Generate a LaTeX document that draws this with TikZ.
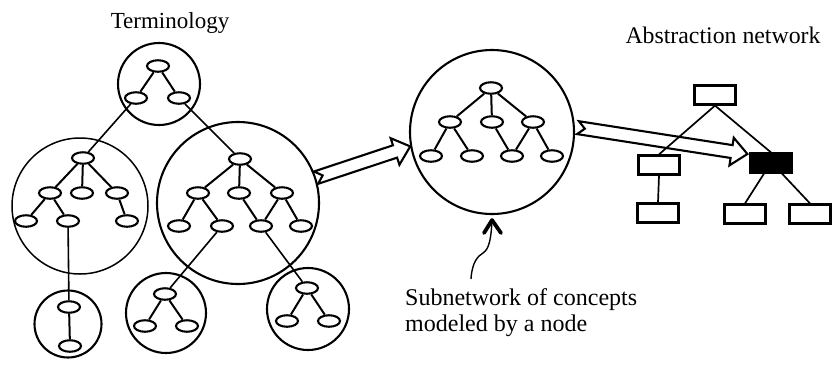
\documentclass[tikz,border=0pt]{standalone}
\usepackage{fontspec}
\setmainfont{Liberation Serif}
\usetikzlibrary{calc,shapes.geometric}

\tikzset{
  grp/.style={circle, draw, line width=2.1pt, inner sep=0pt},
  con/.style={ellipse, draw, line width=2.1pt, fill=white, minimum width=22pt,
              minimum height=11.5pt, inner sep=0pt},
  tedge/.style={line width=2pt},
  link/.style={line width=1.6pt},
  anode/.style={rectangle, draw, line width=2.2pt, minimum width=41pt,
                minimum height=19pt, inner sep=0pt},
  aedge/.style={line width=1.7pt},
  fatarr/.style={line width=2.1pt, line join=miter},
  lbl/.style={font=\fontsize{23}{26}\selectfont, inner sep=0pt},
}

% hollow block arrow with a swallow tail, from #1 (tail) to #2 (tip)
\newcommand\fatarrow[2]{%
  \coordinate (fa-c) at ($(#2)!16pt!(#1)$);
  \draw[fatarr]
    ($(#1)!6.5pt!90:(#2)$) -- ($(fa-c)!6.5pt!-90:(#1)$) -- ($(fa-c)!14pt!-90:(#1)$)
    -- (#2) -- ($(fa-c)!14pt!90:(#1)$) -- ($(fa-c)!6.5pt!90:(#1)$)
    -- ($(#1)!6.5pt!-90:(#2)$) -- ($(#1)!7pt!(#2)$) -- cycle;}

\begin{document}
\begin{tikzpicture}[x=1pt,y=-1pt]
\useasboundingbox (0,0) rectangle (832,365);

% ---------- terminology: groups of concepts ----------
\node[grp, minimum size=82pt] (tc) at (159,84) {};
\node[grp, minimum size=136pt, line width=1.5pt] (lc) at (80,206) {};
\node[grp, minimum size=162pt] (rc) at (238,203) {};
\node[grp, minimum size=67pt] (b1) at (68,324) {};
\node[grp, minimum size=80pt] (b2) at (166,313) {};
\node[grp, minimum size=82pt] (b3) at (308,309) {};

% top group
\node[con] (t0) at (158,66) {};
\node[con] (t1) at (136,98) {};
\node[con] (t2) at (179,98) {};
% left group
\node[con] (l0) at (83,158) {};
\node[con] (l1) at (50,193) {};
\node[con] (l2) at (82,193) {};
\node[con] (l3) at (117,193) {};
\node[con] (l4) at (26,221) {};
\node[con] (l5) at (68,221) {};
\node[con] (l6) at (127,221) {};
% right group
\node[con] (r0) at (240,159) {};
\node[con] (r1) at (198,193) {};
\node[con] (r2) at (239,193) {};
\node[con] (r3) at (282,193) {};
\node[con] (r4) at (179,226) {};
\node[con] (r5) at (222,226) {};
\node[con] (r6) at (261,226) {};
\node[con] (r7) at (301,226) {};
% bottom groups
\node[con] (p0) at (69,307) {};
\node[con] (p1) at (70,346) {};
\node[con] (q0) at (165,294) {};
\node[con] (q1) at (145,326) {};
\node[con] (q2) at (187,326) {};
\node[con] (s0) at (307,288) {};
\node[con] (s1) at (287,321) {};
\node[con] (s2) at (329,321) {};

\draw[tedge] (t0) -- (t1) (t0) -- (t2);
\draw[tedge] (l0) -- (l1) (l0) -- (l2) (l0) -- (l3)
             (l1) -- (l4) (l1) -- (l5) (l3) -- (l6);
\draw[tedge] (r0) -- (r1) (r0) -- (r2) (r0) -- (r3)
             (r1) -- (r4) (r1) -- (r5) (r2) -- (r6) (r3) -- (r6) (r3) -- (r7);
\draw[tedge] (p0) -- (p1);
\draw[tedge] (q0) -- (q1) (q0) -- (q2);
\draw[tedge] (s0) -- (s1) (s0) -- (s2);
% links between groups
\draw[link] (t1) -- (l0);
\draw[link] (t2) -- (r0);
\draw[link] (l5) -- (p0);
\draw[link] (r5) -- (q0);
\draw[link] (r6) -- (s0);

% ---------- subnetwork modeled by a node ----------
\node[grp, minimum size=164pt] (mc) at (492,132) {};
\node[con] (m0) at (491,88) {};
\node[con] (m1) at (450,122) {};
\node[con] (m2) at (492,122) {};
\node[con] (m3) at (533,122) {};
\node[con] (m4) at (431,156) {};
\node[con] (m5) at (472,156) {};
\node[con] (m6) at (512,156) {};
\node[con] (m7) at (552,156) {};
\draw[tedge] (m0) -- (m1) (m0) -- (m2) (m0) -- (m3)
             (m1) -- (m4) (m1) -- (m5) (m2) -- (m6) (m3) -- (m6) (m3) -- (m7);

% ---------- abstraction network ----------
\node[anode] (a0) at (715,95) {};
\node[anode] (a1) at (659,165) {};
\node[anode, fill=black] (bb) at (771,163) {};
\node[anode] (a3) at (658,213) {};
\node[anode] (a4) at (745,214) {};
\node[anode] (a5) at (810,214) {};
\draw[aedge] (a0.south) -- (a1.north);
\draw[aedge] (a0.south) -- (bb.north);
\draw[aedge] (a1.south) -- (a3.north);
\draw[aedge] ([xshift=-7pt]bb.south) -- (a4.north);
\draw[aedge] ([xshift=11pt]bb.south) -- (a5.north);

% ---------- block arrows ----------
\fatarrow{rc.18}{mc.190}
\coordinate (bbtip) at ([shift={(-2pt,9pt)}]bb.west);
\coordinate (mctail) at ([xshift=3pt]mc.3);
\fatarrow{mctail}{bbtip}

% ---------- labels ----------
\node[lbl, anchor=base] (term) at (170,28) {Terminology};
\node[lbl, anchor=base, font=\fontsize{23.8}{26}\selectfont] (absn) at (723,43)
  {Abstraction network};
\node[lbl, anchor=base west, align=left, font=\fontsize{24}{26}\selectfont] (sub)
  at (405,331) {Subnetwork of concepts\\modeled by a node};

% pointer from the caption to the subnetwork
\coordinate (sqb) at (471,279);
\coordinate (sqt) at ([yshift=-5pt]mc.south);
\draw[line width=1.4pt] (sqb) .. controls (472,262) and (478,256) .. (483,253)
  .. controls (489,249) and (491,240) .. (sqt);
\draw[line width=3.8pt, line cap=round, line join=round]
  ([shift={(-8pt,-13pt)}]sqt) -- (sqt) -- ([shift={(9pt,-13pt)}]sqt);
\end{tikzpicture}
\end{document}
